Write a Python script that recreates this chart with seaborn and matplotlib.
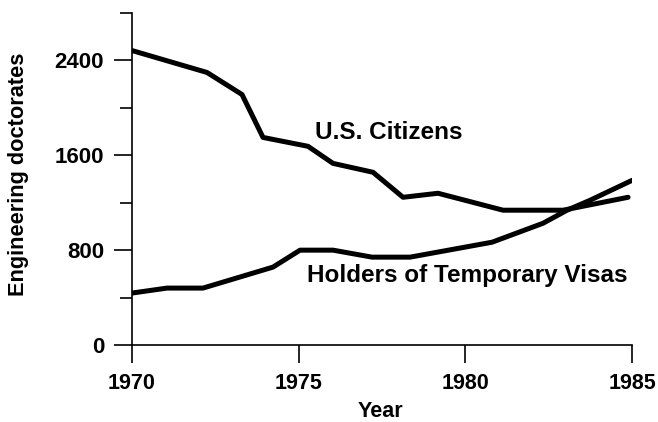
import matplotlib
matplotlib.use("Agg")
import matplotlib.pyplot as plt
import seaborn as sns
import pandas as pd

# data
citizen_years = [1970.0, 1972.25, 1973.3, 1973.93, 1975.28, 1976.03, 1977.23,
                 1978.13, 1979.18, 1981.13, 1982.93, 1984.88]
citizen_counts = [2484, 2299, 2113, 1751, 1676, 1532, 1457,
                  1246, 1280, 1137, 1137, 1246]

visa_years = [1970.0, 1971.05, 1972.13, 1974.23, 1975.04, 1976.03, 1977.2,
              1978.34, 1980.8, 1982.33, 1983.05, 1983.74, 1985.0]
visa_counts = [438, 480, 480, 657, 800, 800, 741,
               741, 867, 1027, 1137, 1221, 1389]

year_ticks = [1970, 1975, 1980, 1985]
count_ticks = [0, 800, 1600, 2400]
count_minor = [400, 1200, 2000, 2800]

sns.set_style("ticks")
plt.rcParams['font.family'] = ['Liberation Sans', 'DejaVu Sans']
plt.rcParams['font.weight'] = 'bold'
plt.rcParams['text.color'] = 'black'
plt.rcParams['axes.labelcolor'] = 'black'

df_cit = pd.DataFrame({'year': citizen_years, 'count': citizen_counts})
df_visa = pd.DataFrame({'year': visa_years, 'count': visa_counts})

fig = plt.figure(figsize=(6.58, 4.22), dpi=100)
ax = fig.add_axes([0.2006, 0.1825, 0.76, 0.7865])

sns.lineplot(data=df_cit, x='year', y='count', ax=ax, color='black',
             linewidth=3.6, estimator=None, sort=False)
sns.lineplot(data=df_visa, x='year', y='count', ax=ax, color='black',
             linewidth=3.6, estimator=None, sort=False)

ax.set_xlim(1970, 1985)
ax.set_ylim(0, 2800)
ax.set_xticks(year_ticks)
ax.set_yticks(count_ticks)
ax.set_yticks(count_minor, minor=True)

ax.tick_params(axis='x', direction='out', length=13, width=1.2, pad=7,
               labelsize=15.5, colors='black')
ax.tick_params(axis='y', which='major', direction='out', length=13, width=1.2,
               pad=7, labelsize=16, colors='black')
ax.tick_params(axis='y', which='minor', direction='out', length=8.5, width=1.2,
               colors='black')

for side in ['top', 'right']:
    ax.spines[side].set_visible(False)
for side in ['left', 'bottom']:
    ax.spines[side].set_linewidth(1.2)
    ax.spines[side].set_color('black')

ax.set_xlabel('Year', fontsize=15.5, fontweight='bold')
ax.set_ylabel('Engineering doctorates', fontsize=15.7, fontweight='bold')
ax.xaxis.set_label_coords(0.496, -0.17)
ax.yaxis.set_label_coords(-0.206, 0.515)

ax.text(1975.49, 1793, 'U.S. Citizens', fontsize=17.5, fontweight='bold',
        va='center', ha='left')
ax.text(1975.25, 589, 'Holders of Temporary Visas', fontsize=17.5,
        fontweight='bold', va='center', ha='left')

fig.savefig('out.png', dpi=100)
